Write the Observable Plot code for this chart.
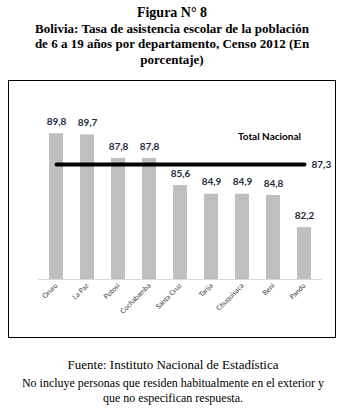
<!DOCTYPE html>
<html><head><meta charset="utf-8">
<script src="https://cdn.jsdelivr.net/npm/d3@7"></script>
<script src="https://cdn.jsdelivr.net/npm/@observablehq/plot@0.6"></script>
<style>
body{margin:0;background:#fff;width:363px;height:412px;position:relative;overflow:hidden}
#title{position:absolute;left:0;top:5px;width:344px;text-align:center;font:bold 13px/15.5px "Liberation Serif",serif;color:#000}
#title .t1{font-size:14px}
#box{position:absolute;left:8px;top:80px;width:326px;height:256px;border:1.5px solid #000;box-sizing:content-box}
#chart{position:absolute;left:0;top:80px}
#foot{position:absolute;left:0;top:357px;width:346px;text-align:center;font:12px/15.5px "Liberation Serif",serif;color:#000}
#foot div.f1{margin-bottom:3px;font-size:13px}
</style></head>
<body>
<div id="title"><span class="t1">Figura N° 8</span><br>Bolivia: Tasa de asistencia escolar de la población<br>de 6 a 19 años por departamento, Censo 2012 (En<br>porcentaje)</div>
<div id="box"></div>
<div id="chart"></div>
<div id="foot"><div class="f1">Fuente: Instituto Nacional de Estadística</div><div>No incluye personas que residen habitualmente en el exterior y<br>que no especifican respuesta.</div></div>
<script>
const departamentos = ["Oruro","La Paz","Potosí","Cochabamba","Santa Cruz","Tarija","Chuquisaca","Beni","Pando"];
const tasas = [89.8,89.7,87.8,87.8,85.6,84.9,84.9,84.8,82.2];
const totalNacional = 87.3;
const totalLabel = "Total Nacional";
const yMin = 78, yMax = 92;

const data = departamentos.map((d,i)=>({dep:d, v:tasas[i]}));
const fmt = v => d3.format(".1f")(v).replace(".", ",");
const totalLine = [{dep: departamentos[0], v: totalNacional},{dep: departamentos[departamentos.length-1], v: totalNacional}];
const font = "Lato, 'Open Sans', sans-serif";

const chart = Plot.plot({
  width: 363, height: 258,
  marginTop: 26, marginBottom: 59, marginLeft: 38, marginRight: 41,
  style: {fontFamily: font, background: "transparent"},
  x: {domain: departamentos, paddingInner: 0.556, paddingOuter: 0.278, label: null},
  y: {domain: [yMin, yMax], axis: null},
  marks: [
    Plot.barY(data, {x: "dep", y1: yMin, y2: "v", fill: "#bfbfbf"}),
    Plot.ruleY([yMin], {stroke: "#d9d9d9", strokeWidth: 1}),
    Plot.axisX({tickSize: 0, tickRotate: -45, tickPadding: 5, fontSize: 7, fill: "#404040", label: null}),
    Plot.text(data, {x: "dep", y: "v", text: d => fmt(d.v), dy: -12, fontSize: 10, fontWeight: "bold", fill: "#1f2a44"}),
    Plot.line(totalLine, {x: "dep", y: "v", stroke: "#000", strokeWidth: 4}),
    Plot.text([totalNacional], {x: () => departamentos[departamentos.length-1], y: d => d, text: d => fmt(d), dx: 7, textAnchor: "start", fontSize: 10, fontWeight: "bold", fill: "#1f2a44"}),
    Plot.text([totalLabel], {x: () => departamentos[7], y: () => totalNacional, text: d => d, dy: -28, dx: -4, fontSize: 10, fontWeight: "bold", fill: "#000"})
  ]
});
document.getElementById("chart").appendChild(chart);
</script>
</body></html>
